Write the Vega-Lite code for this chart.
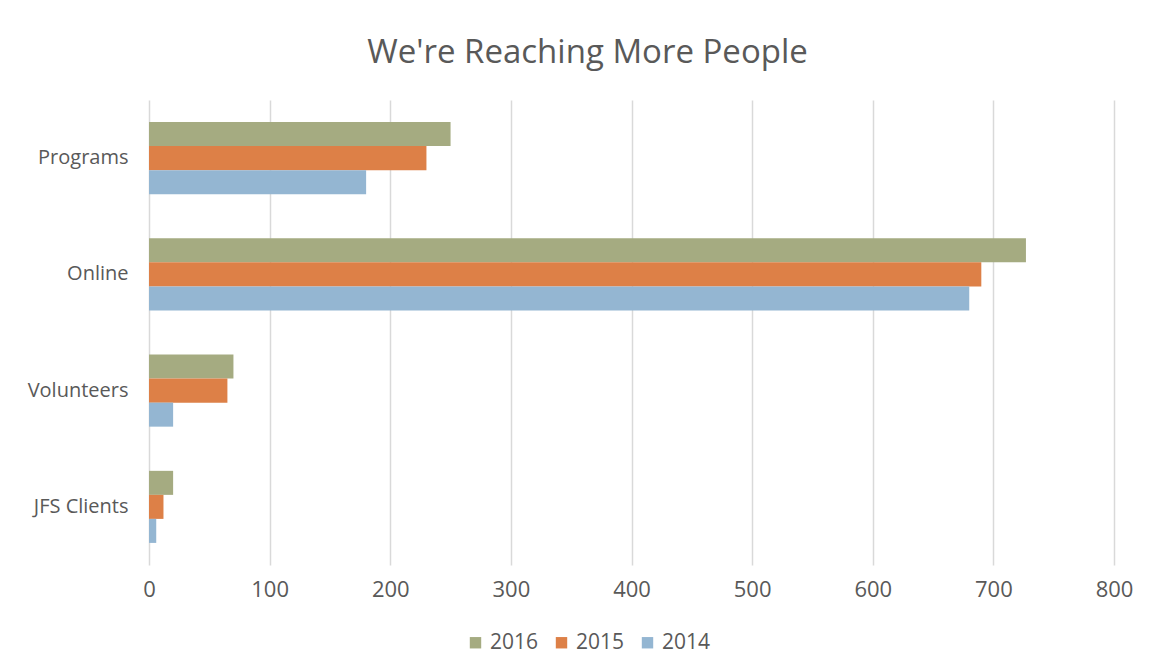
{
  "$schema": "https://vega.github.io/schema/vega-lite/v6.json",
  "width": 965,
  "height": 465,
  "padding": {"left": 149, "top": 100, "right": 38, "bottom": 107},
  "autosize": {"type": "none"},
  "background": "white",
  "title": {
    "text": "We're Reaching More People",
    "fontSize": 33,
    "font": "Open Sans",
    "fontWeight": "normal",
    "color": "#595959",
    "baseline": "alphabetic",
    "anchor": "middle",
    "dx": -44,
    "offset": 4
  },
  "data": {
    "values": [
      {"category": "Programs", "year": "2016", "value": 250},
      {"category": "Programs", "year": "2015", "value": 230},
      {"category": "Programs", "year": "2014", "value": 180},
      {"category": "Online", "year": "2016", "value": 727},
      {"category": "Online", "year": "2015", "value": 690},
      {"category": "Online", "year": "2014", "value": 680},
      {"category": "Volunteers", "year": "2016", "value": 70},
      {"category": "Volunteers", "year": "2015", "value": 65},
      {"category": "Volunteers", "year": "2014", "value": 20},
      {"category": "JFS Clients", "year": "2016", "value": 20},
      {"category": "JFS Clients", "year": "2015", "value": 12},
      {"category": "JFS Clients", "year": "2014", "value": 6}
    ]
  },
  "mark": {"type": "bar"},
  "encoding": {
    "y": {
      "field": "category",
      "type": "nominal",
      "sort": ["Programs", "Online", "Volunteers", "JFS Clients"],
      "scale": {"paddingInner": 0.38, "paddingOuter": 0.19},
      "axis": {
        "title": null,
        "ticks": false,
        "domain": false,
        "labelFontSize": 20,
        "labelFont": "Open Sans",
        "labelColor": "#595959",
        "labelPadding": 21
      }
    },
    "yOffset": {
      "field": "year",
      "type": "nominal",
      "sort": ["2016", "2015", "2014"],
      "scale": {"paddingInner": 0, "paddingOuter": 0}
    },
    "x": {
      "field": "value",
      "type": "quantitative",
      "scale": {"domain": [0, 800], "nice": false},
      "axis": {
        "title": null,
        "values": [0, 100, 200, 300, 400, 500, 600, 700, 800],
        "ticks": false,
        "domain": false,
        "grid": true,
        "gridColor": "#D9D9D9",
        "gridWidth": 1.5,
        "labelFlush": false,
        "labelFontSize": 22,
        "labelFont": "Open Sans",
        "labelColor": "#595959",
        "labelPadding": 14
      }
    },
    "color": {
      "field": "year",
      "type": "nominal",
      "scale": {"domain": ["2016", "2015", "2014"], "range": ["#A5AB81", "#DD8047", "#94B6D2"]},
      "legend": {
        "title": null,
        "orient": "none",
        "legendX": 316,
        "legendY": 532,
        "direction": "horizontal",
        "symbolType": "square",
        "symbolSize": 130,
        "symbolStrokeWidth": 0,
        "labelFontSize": 21,
        "labelFont": "Open Sans",
        "labelColor": "#595959",
        "labelOffset": 4,
        "columnPadding": 12
      }
    }
  },
  "config": {
    "view": {"stroke": null},
    "bar": {"stroke": null}
  }
}
